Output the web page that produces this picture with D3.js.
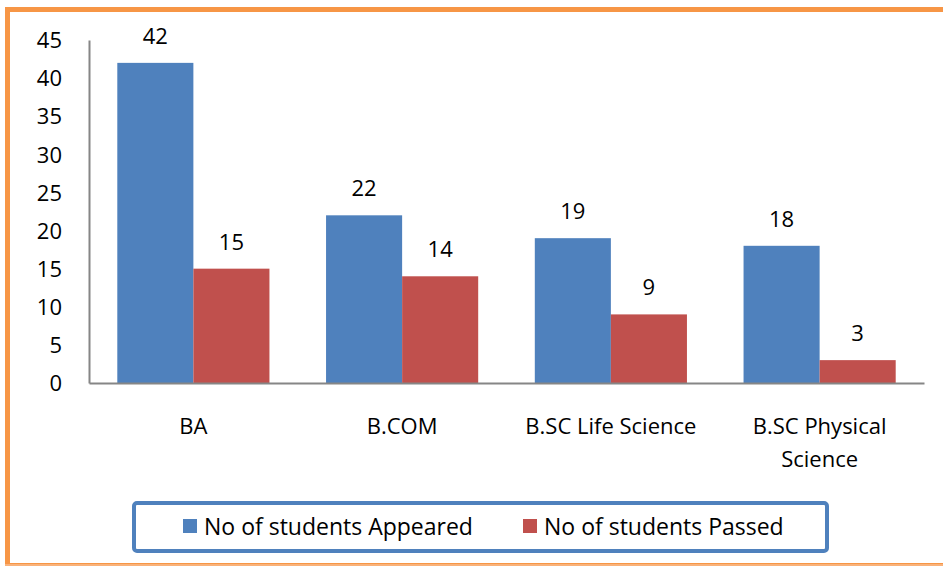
<!DOCTYPE html>
<html>
<head>
<meta charset="utf-8">
<script src="https://cdn.jsdelivr.net/npm/d3@7"></script>
<style>
  body { margin: 0; background: #fff; }
  svg text { font-family: "Open Sans", "Liberation Sans", sans-serif; fill: #000; }
</style>
</head>
<body>
<div id="graph"></div>
<script>
// données
const categories = ["BA", "B.COM", "B.SC Life Science", "B.SC Physical Science"];
const appeared = [42, 22, 19, 18];
const passed = [15, 14, 9, 3];
const series = ["No of students Appeared", "No of students Passed"];
const couleurs = ["#4f81bd", "#c0504d"];
const yTicks = [0, 5, 10, 15, 20, 25, 30, 35, 40, 45];

const largeurTotale = 943, hauteurTotale = 566;
const marges = {haut: 40, droit: 19, bas: 183, gauche: 89};
const largeurInterne = largeurTotale - marges.gauche - marges.droit;
const hauteurInterne = hauteurTotale - marges.haut - marges.bas;

const svg = d3.select("#graph").append("svg")
    .attr("width", largeurTotale)
    .attr("height", hauteurTotale);

// cadre orange
svg.append("rect")
    .attr("x", 7.5).attr("y", 9.5)
    .attr("width", largeurTotale + 20).attr("height", hauteurTotale - 10)
    .attr("fill", "none")
    .attr("stroke", "#f79646")
    .attr("stroke-width", 5);
svg.append("line")
    .attr("x1", 5).attr("x2", largeurTotale)
    .attr("y1", 565).attr("y2", 565)
    .attr("stroke", "#f9b27a").attr("stroke-width", 2);

const graphique = svg.append("g")
    .attr("transform", "translate(" + marges.gauche + "," + marges.haut + ")");

const echelleX = d3.scaleBand()
    .domain(categories)
    .range([0, largeurInterne])
    .paddingInner(0)
    .paddingOuter(0);

const echelleSerie = d3.scaleBand()
    .domain(series)
    .range([0, echelleX.bandwidth()])
    .paddingOuter(0.372);

const echelleY = d3.scaleLinear()
    .domain([0, 45])
    .range([hauteurInterne, 0]);

// axe Y
const axeY = graphique.append("g")
    .call(d3.axisLeft(echelleY).tickValues(yTicks).tickSize(0).tickPadding(27));
axeY.select(".domain").attr("stroke", "#868686").attr("stroke-width", 2);
axeY.selectAll("text").style("font-size", "22px").attr("dy", "0.35em");

// barres
const donnees = categories.map((c, i) => ({cat: c, valeurs: [appeared[i], passed[i]]}));

const groupes = graphique.selectAll(".groupe")
    .data(donnees)
    .enter().append("g")
    .attr("transform", d => "translate(" + echelleX(d.cat) + ",0)");

groupes.selectAll("rect")
    .data(d => d.valeurs.map((v, j) => ({serie: series[j], v: v, j: j})))
    .enter().append("rect")
    .attr("x", d => echelleSerie(d.serie))
    .attr("width", echelleSerie.bandwidth())
    .attr("y", d => echelleY(d.v))
    .attr("height", d => hauteurInterne - echelleY(d.v))
    .attr("fill", d => couleurs[d.j]);

groupes.selectAll(".label")
    .data(d => d.valeurs.map((v, j) => ({serie: series[j], v: v})))
    .enter().append("text")
    .attr("x", d => echelleSerie(d.serie) + echelleSerie.bandwidth() / 2)
    .attr("y", d => echelleY(d.v) - 19)
    .attr("text-anchor", "middle")
    .style("font-size", "22px")
    .text(d => d.v);

// axe X
const axeX = graphique.append("g")
    .attr("transform", "translate(0," + hauteurInterne + ")")
    .call(d3.axisBottom(echelleX).tickSize(0).tickFormat(""));
axeX.select(".domain").attr("stroke", "#868686").attr("stroke-width", 2);

graphique.selectAll(".cat")
    .data(categories)
    .enter().append("text")
    .attr("text-anchor", "middle")
    .style("font-size", "22px")
    .each(function(d) {
      const lignes = d === "B.SC Physical Science" ? ["B.SC Physical", "Science"] : [d];
      const t = d3.select(this);
      lignes.forEach((l, k) => {
        t.append("tspan")
          .attr("x", echelleX(d) + echelleX.bandwidth() / 2)
          .attr("y", hauteurInterne + 51 + k * 33)
          .text(l);
      });
    });

// légende
const legende = svg.append("g");
legende.append("rect")
    .attr("x", 134).attr("y", 503)
    .attr("width", 693).attr("height", 48)
    .attr("rx", 3)
    .attr("fill", "#fff")
    .attr("stroke", "#4f81bd")
    .attr("stroke-width", 4);

const posLegende = [183, 523];
series.forEach((s, i) => {
  legende.append("rect")
    .attr("x", posLegende[i]).attr("y", 519)
    .attr("width", 14).attr("height", 14)
    .attr("fill", couleurs[i]);
  legende.append("text")
    .attr("x", posLegende[i] + 21).attr("y", 535)
    .style("font-size", "23px")
    .text(s);
});
</script>
</body>
</html>
